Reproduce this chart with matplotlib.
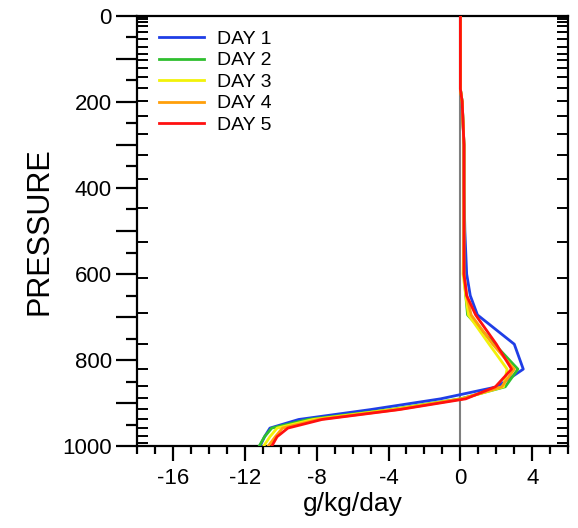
import matplotlib
matplotlib.use("Agg")
import matplotlib.pyplot as plt
import numpy as np

plt.rcParams["font.family"] = ["Liberation Sans", "DejaVu Sans"]
plt.rcParams["axes.unicode_minus"] = False

# pressure levels (hPa) at which the profiles were read
pressure = [0, 170, 200, 250, 300, 400, 500, 600, 650, 695, 763, 821, 862,
            890, 915, 938, 958, 978, 1000]

day1 = [0, 0, 0.1, 0.15, 0.2, 0.2, 0.25, 0.35, 0.55, 0.95, 3.0, 3.5, 2.05,
        -1.1, -5.0, -9.0, -10.6, -10.9, -11.15]
day2 = [0, 0, 0.1, 0.15, 0.2, 0.2, 0.2, 0.2, 0.3, 0.4, 1.9, 3.2, 2.5,
        0.0, -3.9, -8.5, -10.5, -10.9, -11.2]
day3 = [0, 0, 0.1, 0.15, 0.2, 0.2, 0.2, 0.15, 0.3, 0.45, 1.6, 2.6, 2.4,
        0.1, -3.8, -8.2, -10.2, -10.6, -10.95]
day4 = [0, 0, 0.1, 0.15, 0.2, 0.2, 0.2, 0.2, 0.35, 0.6, 1.8, 3.0, 2.3,
        0.1, -3.5, -7.9, -9.9, -10.3, -10.7]
day5 = [0, 0, 0.1, 0.15, 0.2, 0.2, 0.2, 0.2, 0.35, 0.85, 2.0, 2.85, 1.95,
        0.3, -3.4, -7.7, -9.6, -10.2, -10.5]

labels = ["DAY 1", "DAY 2", "DAY 3", "DAY 4", "DAY 5"]
colors = ["#1f3ee6", "#2fbf2f", "#f2f20a", "#ff9f0a", "#ff1010"]

# model levels shown as inner ticks on both sides
model_levels = [3.64, 7.59, 14.36, 24.61, 38.27, 54.6, 72.01, 87.82, 103.32,
                121.55, 142.99, 168.23, 197.91, 232.83, 273.91, 322.24, 379.1,
                445.99, 524.69, 609.78, 691.39, 763.4, 820.86, 859.53, 887.02,
                912.64, 936.2, 957.49, 976.33, 992.56]

fig = plt.figure(figsize=(5.78, 5.28), dpi=100, facecolor="white")
ax = fig.add_axes([0.237, 0.155, 0.746, 0.815])

ax.axvline(0, color="#7f7f7f", linewidth=1.5, zorder=1)
for vals, lab, col in zip([day1, day2, day3, day4, day5], labels, colors):
    ax.plot(vals, pressure, color=col, linewidth=2.0, label=lab, zorder=3)

ax.set_xlim(-18, 6)
ax.set_ylim(1000, 0)

for s in ax.spines.values():
    s.set_linewidth(1.6)

# x axis ticks
ax.set_xticks(np.arange(-16, 5, 4))
ax.set_xticks(np.arange(-18, 7, 1), minor=True)
ax.tick_params(axis="x", which="major", direction="out", length=11, width=1.6,
               labelsize=16, pad=5, top=False)
ax.tick_params(axis="x", which="minor", direction="out", length=6, width=1.6,
               top=False)

# y axis: outer ticks every 100/50 on the left, labels every 200
ax.set_yticks(np.arange(0, 1001, 100))
ax.set_yticklabels([str(v) if v % 200 == 0 else "" for v in range(0, 1001, 100)])
ax.set_yticks(np.arange(50, 1000, 100), minor=True)
ax.tick_params(axis="y", which="major", direction="out", length=15, width=1.6,
               labelsize=16, pad=3, right=False)
ax.tick_params(axis="y", which="minor", direction="out", length=8, width=1.6,
               right=False)

# inner ticks at model levels, left and right
for side in ("left", "right"):
    sec = ax.secondary_yaxis(side)
    sec.set_yticks(model_levels)
    sec.set_yticklabels([])
    sec.tick_params(axis="y", direction="in", length=8, width=1.4)
    sec.spines[side].set_visible(False)

ax.set_ylabel("PRESSURE", fontsize=22, labelpad=6)
ax.set_xlabel("g/kg/day", fontsize=19, labelpad=2)

ax.legend(loc="upper left", bbox_to_anchor=(0.02, 0.998), frameon=False,
          fontsize=14, handlelength=2.3, handletextpad=0.65, labelspacing=0.2,
          borderaxespad=0.3)

fig.savefig("out.png", dpi=100, facecolor="white")
